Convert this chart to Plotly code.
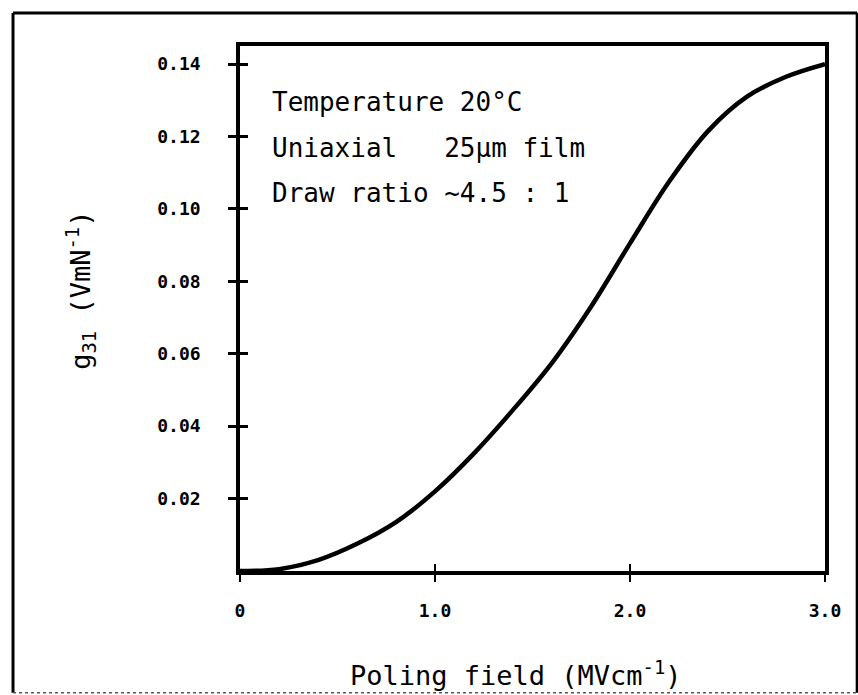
import plotly.graph_objects as go

# Piezoelectric coefficient g31 versus poling field
poling_field = [0.0, 0.2, 0.4, 0.6, 0.8, 1.0, 1.2, 1.4, 1.6, 1.8, 2.0, 2.2, 2.4, 2.6, 2.8, 3.0]
g31 = [0.0, 0.0005, 0.003, 0.0075, 0.0135, 0.022, 0.0325, 0.0445, 0.0575, 0.073,
       0.0905, 0.1075, 0.1215, 0.131, 0.1365, 0.140]

y_ticks = [0.02, 0.04, 0.06, 0.08, 0.10, 0.12, 0.14]
y_tick_text = ["0.02", "0.04", "0.06", "0.08", "0.10", "0.12", "0.14"]
x_ticks = [0, 1.0, 2.0, 3.0]
x_tick_text = ["0", "1.0", "2.0", "3.0"]

notes = ["Temperature 20°C", "Uniaxial   25µm film", "Draw ratio ~4.5 : 1"]

MONO = "DejaVu Sans Mono"
X_RANGE = [0, 3.0]
Y_RANGE = [0, 0.145]

fig = go.Figure()
fig.add_trace(go.Scatter(
    x=poling_field, y=g31, mode="lines",
    line=dict(color="black", width=4.5, shape="spline", smoothing=1.0),
    showlegend=False, hoverinfo="skip",
))

tick_font = dict(family=MONO, size=18, color="black", weight="bold")

fig.update_layout(
    width=858, height=695,
    margin=dict(l=240, r=33, t=46, b=124),
    paper_bgcolor="white", plot_bgcolor="white",
    xaxis=dict(
        range=X_RANGE, tickvals=x_ticks, ticktext=x_tick_text,
        ticks="outside", ticklen=7, tickwidth=2, tickcolor="black",
        showline=True, linewidth=3.5, linecolor="black", mirror=True,
        showgrid=False, zeroline=False, tickfont=tick_font,
        ticklabelstandoff=14,
    ),
    yaxis=dict(
        range=Y_RANGE, tickvals=y_ticks, ticktext=y_tick_text,
        ticks="outside", ticklen=8, tickwidth=3, tickcolor="black",
        showline=True, linewidth=3.5, linecolor="black", mirror=True,
        showgrid=False, zeroline=False, tickfont=tick_font,
        ticklabelstandoff=24,
    ),
    # overlay axes give the inner half of the crossing tick marks
    xaxis2=dict(
        range=X_RANGE, overlaying="x", side="bottom", anchor="y",
        tickvals=[1.0, 2.0], ticks="inside", ticklen=7, tickwidth=2,
        tickcolor="black", showticklabels=False, showgrid=False,
        zeroline=False, showline=False,
    ),
    yaxis2=dict(
        range=Y_RANGE, overlaying="y", side="left", anchor="x",
        tickvals=y_ticks, ticks="inside", ticklen=8, tickwidth=3,
        tickcolor="black", showticklabels=False, showgrid=False,
        zeroline=False, showline=False,
    ),
)

# invisible trace to activate the overlay axes
fig.add_trace(go.Scatter(x=[None], y=[None], xaxis="x2", yaxis="y2",
                         showlegend=False, hoverinfo="skip"))

# axis titles
fig.add_annotation(
    text="Poling field (MVcm<sup>-1</sup>)", xref="paper", yref="paper",
    x=0.472, y=-0.196, xanchor="center", yanchor="middle", showarrow=False,
    font=dict(family=MONO, size=27, color="black"),
)
fig.add_annotation(
    text="g<sub>31</sub> (VmN<sup>-1</sup>)", xref="paper", yref="paper",
    x=-0.274, y=0.535, xanchor="center", yanchor="middle", showarrow=False,
    textangle=-90, font=dict(family=MONO, size=27, color="black"),
)

# conditions block
for i, line in enumerate(notes):
    fig.add_annotation(
        text=line, xref="paper", yref="paper",
        x=0.051, y=0.893 - i * 0.0865, xanchor="left", yanchor="middle",
        showarrow=False, font=dict(family=MONO, size=26, color="black"),
    )

# outer frame around the figure
frame = dict(xref="paper", yref="paper", type="line")
fig.add_shape(**frame, x0=-0.388, x1=1.055, y0=1.063, y1=1.063,
              line=dict(color="black", width=3))
fig.add_shape(**frame, x0=-0.388, x1=-0.388, y0=1.063, y1=-0.232,
              line=dict(color="black", width=3))
fig.add_shape(**frame, x0=1.055, x1=1.055, y0=1.063, y1=-0.232,
              line=dict(color="black", width=3))
fig.add_shape(**frame, x0=-0.388, x1=1.055, y0=-0.232, y1=-0.232,
              line=dict(color="#555555", width=1.5, dash="dot"))

fig.write_html("out.html")
